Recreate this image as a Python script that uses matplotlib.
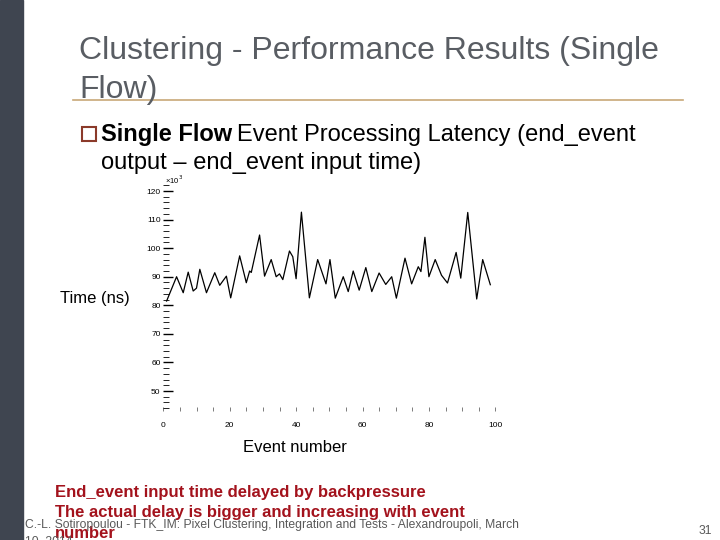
import matplotlib
matplotlib.use("Agg")
import matplotlib.pyplot as plt
from matplotlib.patches import Rectangle
from matplotlib.ticker import MultipleLocator

plt.rcParams["font.family"] = ["Liberation Sans", "DejaVu Sans"]

# Event processing latency, in units of 10^3 ns
event_number = [1, 4, 6, 7.5, 9, 10, 11, 13, 15.5, 17,
                19, 20.3, 23, 25, 26, 26.5, 29, 30.5, 32.5, 34,
                35, 36, 38, 39, 40, 41.6, 44, 46.5, 49, 50.2,
                51.8, 54.2, 55.7, 57.2, 59, 61, 62.8, 65, 67, 68.8,
                70.2, 72.8, 74.8, 76.8, 77.6, 78.8, 80, 81.9, 83.8, 85.6,
                88.2, 89.6, 91.7, 94.4, 96.2, 98.5]
latency_k = [81.5, 90, 84.4, 91.6, 85, 86, 92.6, 84.4, 91.4, 87,
             90.2, 82.6, 97.3, 87.9, 92, 91.5, 104.6, 90.2, 96, 90,
             91, 89, 99, 97, 89.3, 112.6, 82.6, 96, 87.5, 96,
             82.5, 90, 84.8, 92, 85.3, 93.2, 84.8, 91.3, 87.3, 90,
             82.5, 96.5, 87.5, 93.5, 91.8, 103.8, 90, 96, 90.5, 87.8,
             98.5, 89.5, 112.5, 82.2, 96, 87.2]

x_ticks = [0, 20, 40, 60, 80, 100]
y_ticks = [50, 60, 70, 80, 90, 100, 110, 120]

W, H = 720, 540


def fx(x):
    return x / W


def fy(y):
    return 1 - y / H


fig = plt.figure(figsize=(7.2, 5.4), dpi=100)
fig.patch.set_facecolor("white")

# slide chrome
fig.patches.append(Rectangle((0, 0), fx(23), 1, transform=fig.transFigure,
                             color="#3f4550", zorder=0))
fig.add_artist(plt.Line2D([fx(73), fx(683)], [fy(99.5), fy(99.5)],
                          transform=fig.transFigure, color="#c8a878", lw=1.2))

title_color = "#595d63"
fig.text(fx(79), fy(59), "Clustering - Performance Results (Single",
         fontsize=23, color=title_color, va="baseline")
fig.text(fx(79), fy(98), "Flow)", fontsize=23, color=title_color, va="baseline")

fig.patches.append(Rectangle((fx(82), fy(141)), fx(14), 14 / H,
                             transform=fig.transFigure, fill=False,
                             edgecolor="#8b3a2a", lw=1.5))
bold = fig.text(fx(101), fy(141), "Single Flow", fontsize=17,
                fontweight="bold", color="black", va="baseline")
renderer = fig.canvas.get_renderer()
bold_end = bold.get_window_extent(renderer).x1
fig.text(fx(bold_end + 5), fy(141), "Event Processing Latency (end_event",
         fontsize=17, color="black", va="baseline")
fig.text(fx(101), fy(169), "output \u2013 end_event input time)",
         fontsize=17, color="black", va="baseline")

# the plot
ax = fig.add_axes([fx(163.3), fy(411), (495.3 - 163.3) / W, (411 - 185.3) / H])
ax.plot(event_number, latency_k, color="black", lw=0.9)
ax.set_xlim(0, 100)
ax.set_ylim(43, 122)
for s in ax.spines.values():
    s.set_visible(False)
ax.set_xticks(x_ticks)
ax.set_yticks(y_ticks)
ax.xaxis.set_minor_locator(MultipleLocator(5))
ax.yaxis.set_minor_locator(MultipleLocator(2))
ax.tick_params(axis="y", which="major", direction="in", length=7, width=1,
               labelsize=6, pad=2, colors="black")
ax.tick_params(axis="y", which="minor", direction="in", length=4, width=0.6,
               color="black")
ax.tick_params(axis="x", which="both", direction="in", length=3, width=0.6,
               labelsize=6, pad=8, color="#666666")
ax.text(0.6, 124.0, "\u00d710$^3$", fontsize=5.5, ha="left", va="center")
ax.patch.set_alpha(0)

fig.text(fx(60), fy(303), "Time (ns)", fontsize=12, color="black", va="baseline")
fig.text(fx(243), fy(452), "Event number", fontsize=12, color="black",
         va="baseline")

red = "#a3121c"
fig.text(fx(55), fy(497), "End_event input time delayed by backpressure",
         fontsize=12, fontweight="bold", color=red, va="baseline")
fig.text(fx(55), fy(517), "The actual delay is bigger and increasing with event",
         fontsize=12, fontweight="bold", color=red, va="baseline")
fig.text(fx(55), fy(538), "number", fontsize=12, fontweight="bold",
         color=red, va="baseline")

foot = "#595959"
fig.text(fx(25), fy(528),
         "C.-L. Sotiropoulou - FTK_IM: Pixel Clustering, Integration and Tests"
         " - Alexandroupoli, March", fontsize=8.7, color=foot, va="baseline")
fig.text(fx(25), fy(545), "10, 2014", fontsize=8.7, color=foot, va="baseline")
fig.text(fx(712), fy(534), "31", fontsize=8.7, color=foot, va="baseline",
         ha="right")

fig.savefig("out.png", dpi=100)
